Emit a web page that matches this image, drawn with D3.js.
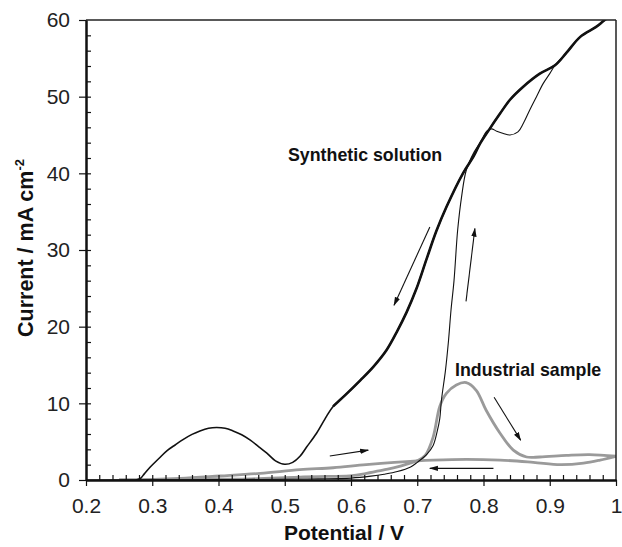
<!DOCTYPE html>
<html><head><meta charset="utf-8">
<script src="https://cdn.jsdelivr.net/npm/d3@7"></script>
<style>body{margin:0;background:#fff}svg{display:block}text{font-family:"Liberation Sans",Arial,Helvetica,sans-serif}</style>
</head><body>
<svg id="chart" width="622" height="547"></svg>
<script>
// ---- data ----
const xTickValues = [0.2,0.3,0.4,0.5,0.6,0.7,0.8,0.9,1.0];
const xTickLabels = ["0.2","0.3","0.4","0.5","0.6","0.7","0.8","0.9","1"];
const yTickValues = [0,10,20,30,40,50,60];
const yTickLabels = ["0","10","20","30","40","50","60"];

// Synthetic solution, forward scan (thin)
const synFwdV = [0.20,0.30,0.40,0.50,0.55,0.60,0.63,0.65,0.67,0.69,0.70,0.714,0.724,0.730,0.734,0.7365,0.7426,0.747,0.751,0.7555,0.761,0.767,0.774,0.786,0.795,0.805,0.812,0.820,0.830,0.840,0.852,0.860,0.870,0.880,0.890,0.900,0.908,0.925,0.946,0.970,0.990];
const synFwdI = [0,0.02,0.05,0.1,0.15,0.25,0.5,0.75,1.1,1.7,2.3,3.3,4.5,6.3,8.0,10.4,14.3,18.0,22.2,26.0,32.6,37.0,40.4,42.8,44.0,45.5,45.8,45.5,45.2,45.0,45.4,46.5,48.3,50.0,51.7,53.0,54.1,55.7,57.8,59.1,60.5];
// Synthetic solution, reverse scan (thick, noisy)
const synRevV = [1.0,0.983,0.970,0.946,0.925,0.908,0.885,0.860,0.840,0.825,0.810,0.795,0.785,0.769,0.744,0.729,0.714,0.699,0.684,0.669,0.654,0.634,0.614,0.594,0.573,0.563,0.548,0.533,0.523,0.512,0.500,0.486,0.473,0.460,0.448,0.435,0.422,0.41,0.397,0.385,0.372,0.36,0.347,0.335,0.322,0.31,0.297,0.288,0.282,0.275];
const synRevI = [61,60,59.1,57.8,55.7,54.1,53.0,51.3,49.6,47.8,45.9,43.9,42.2,40.0,35.6,32.5,28.8,25.0,21.9,19.3,17.0,14.8,13.0,11.3,9.6,8.3,6.1,4.3,3.1,2.3,2.05,2.5,3.5,4.4,5.2,5.9,6.4,6.75,6.85,6.75,6.4,5.95,5.3,4.6,3.8,2.8,1.7,0.8,0.2,0];
// Industrial sample, forward scan
const indFwdV = [0.25,0.30,0.40,0.45,0.50,0.523,0.55,0.598,0.62,0.648,0.67,0.689,0.70,0.712,0.724,0.734,0.744,0.759,0.774,0.789,0.804,0.825,0.845,0.865,0.885,0.925,0.960,1.0];
const indFwdI = [0,0.03,0.1,0.15,0.3,0.38,0.45,0.55,0.8,1.3,1.7,2.2,2.5,3.2,5.6,9.6,11.3,12.4,12.7,11.7,9.1,6.1,3.9,3.0,3.0,3.2,3.3,3.1];
// Industrial sample, reverse scan
const indRevV = [1.0,0.976,0.951,0.916,0.875,0.825,0.774,0.724,0.70,0.623,0.573,0.523,0.463,0.402,0.342,0.28,0.25];
const indRevI = [3.1,2.6,2.2,2.0,2.3,2.6,2.7,2.6,2.5,2.0,1.6,1.35,0.87,0.52,0.2,0.02,0];

// arrows [V0, I0, V1, I1]
const arrows = [
  [0.719,33.0,0.665,22.8],
  [0.7736,23.3,0.787,32.8],
  [0.568,3.13,0.626,3.9],
  [0.816,10.8,0.856,5.2],
  [0.815,1.52,0.719,1.52]
];

// ---- drawing ----
const svg = d3.select("#chart");
const L=86, R=616, T=20, B=480;
const x = d3.scaleLinear().domain([0.2,1.0]).range([L,R]);
const y = d3.scaleLinear().domain([0,60]).range([B,T]);

svg.append("defs").append("clipPath").attr("id","clip")
  .append("rect").attr("x",L).attr("y",T).attr("width",R-L).attr("height",B-T);
const marker = svg.select("defs").append("marker").attr("id","ah")
  .attr("viewBox","0 0 10 10").attr("refX",9).attr("refY",5)
  .attr("markerWidth",9).attr("markerHeight",9).attr("markerUnits","userSpaceOnUse")
  .attr("orient","auto");
marker.append("path").attr("d","M0,2 L10,5 L0,8 Z").attr("fill","#111");

const zip = (a,b)=>a.map((v,i)=>[v,b[i]]);
const line = d3.line().x(d=>x(d[0])).y(d=>y(d[1])).curve(d3.curveCatmullRom.alpha(0.5));
const g = svg.append("g").attr("clip-path","url(#clip)");

// industrial (gray)
g.append("path").datum(zip(indRevV,indRevI)).attr("d",line)
  .attr("fill","none").attr("stroke","#9a9a9a").attr("stroke-width",2.8);
g.append("path").datum(zip(indFwdV,indFwdI)).attr("d",line)
  .attr("fill","none").attr("stroke","#9a9a9a").attr("stroke-width",2.8);
// synthetic (black)
g.append("path").datum(zip(synFwdV,synFwdI)).attr("d",line)
  .attr("fill","none").attr("stroke","#111").attr("stroke-width",1.1);
const rev = zip(synRevV,synRevI);
g.append("path").datum(rev).attr("d",line)
  .attr("fill","none").attr("stroke","#111").attr("stroke-width",1.6);
g.append("path").datum(rev.filter(d=>d[0]>=0.57)).attr("d",line)
  .attr("fill","none").attr("stroke","#111").attr("stroke-width",2.6);

// arrows
svg.append("g").selectAll("line").data(arrows).join("line")
  .attr("x1",d=>x(d[0])).attr("y1",d=>y(d[1]))
  .attr("x2",d=>x(d[2])).attr("y2",d=>y(d[3]))
  .attr("stroke","#111").attr("stroke-width",1.1).attr("marker-end","url(#ah)");

// frame
svg.append("line").attr("x1",L).attr("x2",R).attr("y1",T).attr("y2",T).attr("stroke","#222").attr("stroke-width",1.5);
svg.append("line").attr("x1",R).attr("x2",R).attr("y1",T).attr("y2",B).attr("stroke","#222").attr("stroke-width",1.5);

// axes
const xMinor = d3.range(0.22,1.0,0.02).map(v=>+v.toFixed(2));
const yMinor = d3.range(2,60,2);
const fx = d=>xTickLabels[xTickValues.findIndex(v=>Math.abs(v-d)<1e-9)];
const fy = d=>yTickLabels[yTickValues.indexOf(d)];

const xa = svg.append("g").attr("transform",`translate(0,${B})`)
  .call(d3.axisBottom(x).tickValues(xTickValues).tickFormat(fx).tickSizeInner(6).tickSizeOuter(0).tickPadding(12));
const xi = svg.append("g").attr("transform",`translate(0,${B})`)
  .call(d3.axisTop(x).tickValues(xMinor).tickFormat("").tickSizeInner(5).tickSizeOuter(0));
const ya = svg.append("g").attr("transform",`translate(${L},0)`)
  .call(d3.axisLeft(y).tickValues(yTickValues).tickFormat(fy).tickSizeInner(7).tickSizeOuter(0).tickPadding(9));
const yi = svg.append("g").attr("transform",`translate(${L},0)`)
  .call(d3.axisRight(y).tickValues(yMinor).tickFormat("").tickSizeInner(5).tickSizeOuter(0));
[xa,xi,ya,yi].forEach(a=>{
  a.select(".domain").attr("stroke","#111").attr("stroke-width",2);
  a.selectAll(".tick line").attr("stroke","#111").attr("stroke-width",1.2);
  a.selectAll("text").attr("font-size",21).attr("fill","#222")
   .attr("font-family","'Liberation Sans',Arial,Helvetica,sans-serif");
});

// titles
svg.append("text").attr("x",344).attr("y",540).attr("text-anchor","middle")
  .attr("font-size",21).attr("font-weight","bold").attr("fill","#111").text("Potential / V");
const yt = svg.append("text").attr("transform","translate(33,248) rotate(-90)")
  .attr("text-anchor","middle").attr("font-size",21.5).attr("font-weight","bold").attr("fill","#111");
yt.append("tspan").text("Current / mA cm");
yt.append("tspan").attr("font-size",13).attr("dy",-9).text("-2");

svg.append("text").attr("x",288).attr("y",161).attr("font-size",17.8).attr("font-weight","bold").attr("fill","#111").text("Synthetic solution");
svg.append("text").attr("x",455).attr("y",376).attr("font-size",17.8).attr("font-weight","bold").attr("fill","#111").text("Industrial sample");
</script>
</body></html>
